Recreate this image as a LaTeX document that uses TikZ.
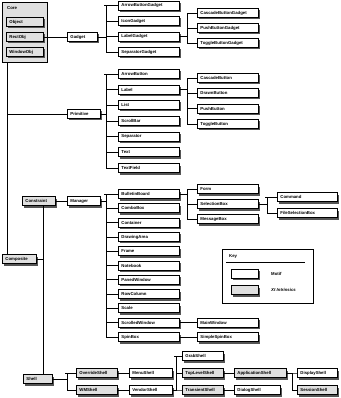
\documentclass[tikz,border=0pt]{standalone}
\usepackage{fontspec}
\setmainfont{Liberation Sans}
\usetikzlibrary{shadows}
\definecolor{xtgray}{HTML}{E0E0E0}
\definecolor{shadowc}{HTML}{555555}
\newcommand{\boxfont}{\fontsize{4.3pt}{5pt}\selectfont\bfseries}
\begin{document}
\begin{tikzpicture}[x=1pt,y=-1pt,
  cls/.style={draw=black, line width=0.9pt, fill=white,
    drop shadow={shadow xshift=2pt, shadow yshift=-2pt, fill=shadowc, opacity=1},
    inner xsep=3pt, inner ysep=0pt, minimum height=9pt, text width=#1,
    align=left, anchor=west, font=\boxfont},
  xt/.style={cls={#1}, fill=xtgray},
  link/.style={draw=black, line width=0.7pt},
  plain/.style={font=\boxfont, anchor=west, inner sep=0pt}]
\useasboundingbox (0,0) rectangle (340,398);

% Core panel
\node[draw, line width=0.8pt, fill=xtgray, minimum width=45pt, minimum height=60pt,
      anchor=north west, inner sep=0pt] (core) at (2,2) {};
\node[plain] (corelbl) at (7,8) {Core};
\node[xt=31pt] (object) at (6,22) {Object};
\node[xt=31pt] (rectobj) at (6,37) {RectObj};
\node[xt=31pt] (windowobj) at (6,52) {WindowObj};

% Gadget
\node[cls=24pt] (gadget) at (67,37) {Gadget};
\node[cls=55pt] (g1) at (118,5.5) {ArrowButtonGadget};
\node[cls=55pt] (g2) at (118,21) {IconGadget};
\node[cls=55pt] (g3) at (118,36.5) {LabelGadget};
\node[cls=55pt] (g4) at (118,52) {SeparatorGadget};
\node[cls=55pt] (lg1) at (197,13) {CascadeButtonGadget};
\node[cls=55pt] (lg2) at (197,28) {PushButtonGadget};
\node[cls=55pt] (lg3) at (197,43) {ToggleButtonGadget};

% Primitive
\node[cls=27pt] (primitive) at (67,114) {Primitive};
\node[cls=55pt] (p1) at (118,74) {ArrowButton};
\node[cls=55pt] (p2) at (118,89.5) {Label};
\node[cls=55pt] (p3) at (118,105) {List};
\node[cls=55pt] (p4) at (118,121) {ScrollBar};
\node[cls=55pt] (p5) at (118,136.5) {Separator};
\node[cls=55pt] (p6) at (118,152) {Text};
\node[cls=55pt] (p7) at (118,168) {TextField};
\node[cls=55pt] (l1) at (197,78) {CascadeButton};
\node[cls=55pt] (l2) at (197,93) {DrawnButton};
\node[cls=55pt] (l3) at (197,108.5) {PushButton};
\node[cls=55pt] (l4) at (197,124) {ToggleButton};

% Constraint / Manager
\node[xt=27pt] (constraint) at (22,201) {Constraint};
\node[cls=27pt] (manager) at (67,201) {Manager};
\node[cls=55pt] (m1) at (118,194) {BulletinBoard};
\node[cls=55pt] (m2) at (118,208.3) {ComboBox};
\node[cls=55pt] (m3) at (118,222.6) {Container};
\node[cls=55pt] (m4) at (118,236.9) {DrawingArea};
\node[cls=55pt] (m5) at (118,251.2) {Frame};
\node[cls=55pt] (m6) at (118,265.5) {Notebook};
\node[cls=55pt] (m7) at (118,279.8) {PanedWindow};
\node[cls=55pt] (m8) at (118,294.1) {RowColumn};
\node[cls=55pt] (m9) at (118,308.4) {Scale};
\node[cls=55pt] (m10) at (118,322.7) {ScrolledWindow};
\node[cls=55pt] (m11) at (118,337) {SpinBox};
\node[cls=55pt] (b1) at (197,189) {Form};
\node[cls=55pt] (b2) at (197,204) {SelectionBox};
\node[cls=55pt] (b3) at (197,219) {MessageBox};
\node[cls=54pt] (s1) at (277,197) {Command};
\node[cls=54pt] (s2) at (277,213) {FileSelectionBox};
\node[cls=55pt] (mainwin) at (197,322.7) {MainWindow};
\node[cls=55pt] (simplespin) at (197,337) {SimpleSpinBox};

% Composite
\node[xt=28pt] (composite) at (2,259) {Composite};

% Shells
\node[xt=23pt] (shell) at (23,379) {Shell};
\node[xt=35pt] (override) at (76,373) {OverrideShell};
\node[xt=35pt] (wmshell) at (76,390) {WMShell};
\node[cls=37pt] (menushell) at (129,373) {MenuShell};
\node[cls=37pt] (vendor) at (129,390) {VendorShell};
\node[cls=35pt] (grab) at (182,356) {GrabShell};
\node[xt=35pt] (toplevel) at (182,373) {TopLevelShell};
\node[xt=35pt] (transient) at (182,390) {TransientShell};
\node[xt=46pt] (appshell) at (234,373) {ApplicationShell};
\node[cls=40pt] (dialog) at (234,390) {DialogShell};
\node[cls=34pt] (display) at (297,373) {DisplayShell};
\node[xt=34pt] (session) at (297,390) {SessionShell};

% Key
\node[draw, line width=0.8pt, fill=white, minimum width=91pt, minimum height=54pt,
      anchor=north west, inner sep=0pt] (key) at (222,249) {};
\node[plain] (keylbl) at (229,256.5) {Key};
\coordinate (ul1) at (226,262);
\coordinate (ul2) at (305,262);
\draw[line width=0.7pt] (ul1) -- (ul2);
\node[cls=21pt] (kmotif) at (231,273.5) {};
\node[xt=21pt] (kxt) at (231,290) {};
\node[plain] (kmotiflbl) at (271,273.5) {Motif};
\node[plain] (kxtlbl) at (271,290) {\itshape Xt Intrinsics};

% Connectors
\coordinate (trunk) at (7,62);
\draw[link] (core.south -| trunk) -- (trunk |- composite.north);
\draw[link] (primitive.west) -- (primitive.west -| trunk);
\draw[link] (rectobj.east) -- (gadget.west);

\foreach \c in {g1,g2,g3,g4} \draw[link] (\c.west) -- ++(-12,0) |- (gadget.east);
\foreach \c in {lg1,lg2,lg3} \draw[link] (\c.west) -- ++(-10,0) |- (g3.east);
\foreach \c in {p1,p2,p3,p4,p5,p6,p7} \draw[link] (\c.west) -- ++(-12,0) |- (primitive.east);
\foreach \c in {l1,l2,l3,l4} \draw[link] (\c.west) -- ++(-10,0) |- (p2.east);
\foreach \c in {g1,p1,m1} \draw[link] (\c.west) -- ++(-14.5,0);

\draw[link] (constraint.east) -- (manager.west);
\foreach \c in {m1,m2,m3,m4,m5,m6,m7,m8,m9,m10,m11} \draw[link] (\c.west) -- ++(-12,0) |- (manager.east);
\foreach \c in {b1,b2,b3} \draw[link] (\c.west) -- ++(-10,0) |- (m1.east);
\foreach \c in {s1,s2} \draw[link] (\c.west) -- ++(-10,0) |- (b2.east);
\draw[link] (s1.west) -- ++(-12.5,0);
\draw[link] (m10.east) -- (mainwin.west);
\draw[link] (m11.east) -- (simplespin.west);

\coordinate (cv) at (43,259);
\draw[link] (composite.east) -- (cv);
\draw[link] (constraint.south -| cv) -- (shell.north -| cv);

\foreach \c in {override,wmshell} \draw[link] (\c.west) -- ++(-9,0) |- (shell.east);
\draw[link] (override.west) -- ++(-11.5,0);
\draw[link] (override.east) -- (menushell.west);
\draw[link] (wmshell.east) -- (vendor.west);
\foreach \c in {grab,toplevel,transient} \draw[link] (\c.west) -- ++(-6,0) |- (vendor.east);
\draw[link] (grab.west) -- ++(-8,0);
\draw[link] (toplevel.east) -- (appshell.west);
\draw[link] (transient.east) -- (dialog.west);
\foreach \c in {display,session} \draw[link] (\c.west) -- ++(-5,0) |- (appshell.east);
\end{tikzpicture}
\end{document}
